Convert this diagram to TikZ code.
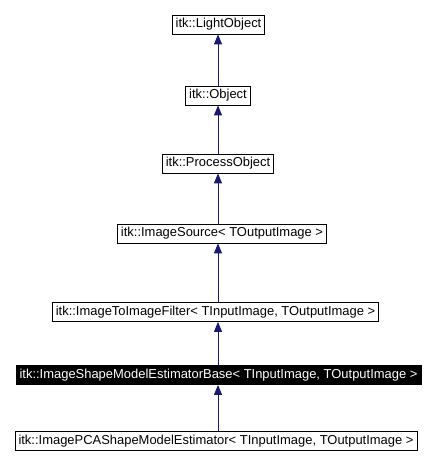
\documentclass[tikz,border=0pt]{standalone}
\usepackage{fontspec}
\setmainfont{Liberation Sans}
\usetikzlibrary{arrows.meta}
\definecolor{edgeblue}{HTML}{191970}

\begin{document}
\begin{tikzpicture}[x=1bp, y=-1bp,
		cls/.style={draw=black, fill=white, line width=0.8bp, inner xsep=3.5bp, inner ysep=0pt,
			minimum height=19bp, font=\fontsize{13}{14}\selectfont},
		clshl/.style={cls, fill=black, text=white},
		inh/.style={draw=edgeblue, line width=1bp, -{Triangle[length=10bp, width=8bp]}}]
		%%%%% START %%%%%
		
		\useasboundingbox (0, 0) rectangle (436, 465);
		\coordinate (spine) at (218, 0);
		
		\node[cls] (light) at (218.5, 24.5) {itk::LightObject};
		\node[cls] (object) at (218, 95.5) {itk::Object};
		\node[cls] (process) at (218, 163.5) {itk::ProcessObject};
		\node[cls] (source) at (222, 233.5) {itk::ImageSource< TOutputImage >};
		\node[cls] (filter) at (215.5, 312) {itk::ImageToImageFilter< TInputImage, TOutputImage >};
		\node[clshl] (base) at (218.5, 375) {itk::ImageShapeModelEstimatorBase< TInputImage, TOutputImage >};
		\node[cls] (pca) at (216, 441) {itk::ImagePCAShapeModelEstimator< TInputImage, TOutputImage >};
		
		\draw[inh] (object.north -| spine) -- (light.south -| spine);
		\draw[inh] (process.north -| spine) -- (object.south -| spine);
		\draw[inh] (source.north -| spine) -- (process.south -| spine);
		\draw[inh] (filter.north -| spine) -- (source.south -| spine);
		\draw[inh] (base.north -| spine) -- (filter.south -| spine);
		\draw[inh] (pca.north -| spine) -- (base.south -| spine);
		
		%%%%% END %%%%%
	\end{tikzpicture}
\end{document}
